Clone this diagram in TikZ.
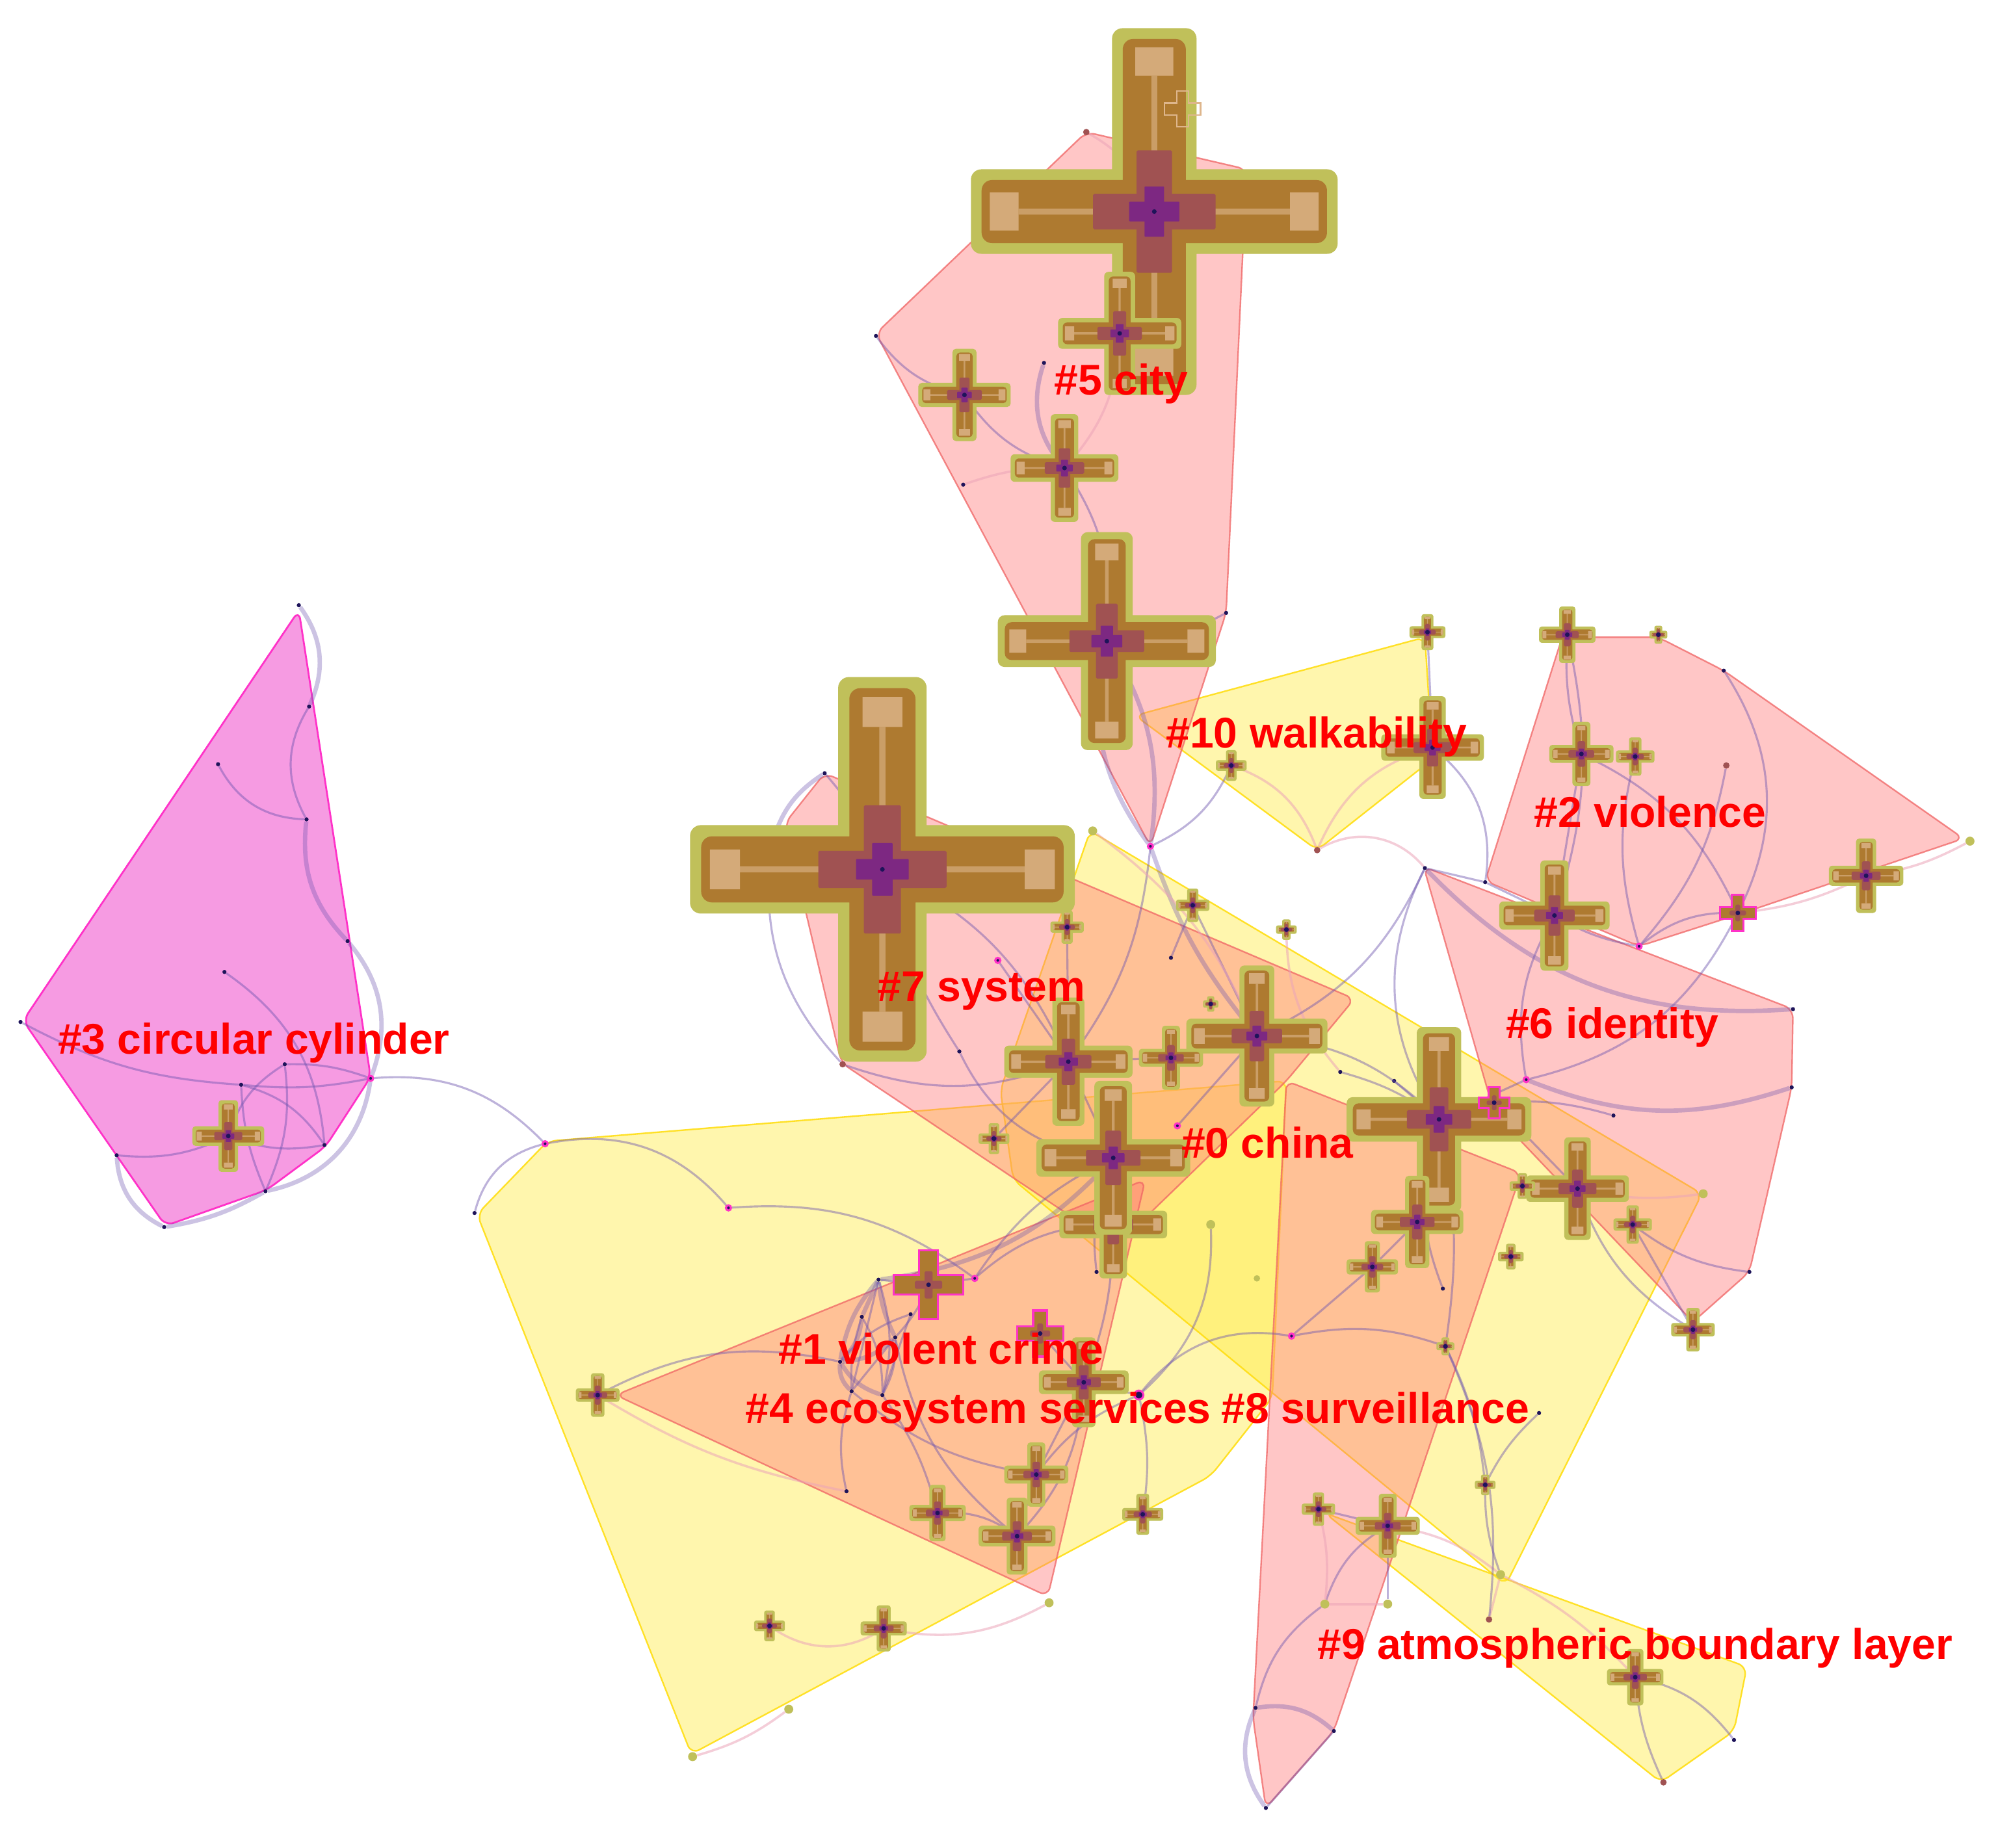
\documentclass[tikz,border=0pt]{standalone}
\usepackage{fontspec}
\setmainfont{Liberation Sans}
\definecolor{pkf}{RGB}{255,120,120}
\definecolor{pkd}{RGB}{240,100,100}
\definecolor{ylf}{RGB}{255,235,60}
\definecolor{yld}{RGB}{255,222,20}
\definecolor{mgf}{RGB}{246,155,226}
\definecolor{mgd}{RGB}{255,50,200}
\definecolor{olv}{RGB}{192,192,90}
\definecolor{brn}{RGB}{174,122,48}
\definecolor{tanc}{RGB}{222,182,140}
\definecolor{plm}{RGB}{160,82,82}
\definecolor{prp}{RGB}{125,40,130}
\definecolor{nvy}{RGB}{30,20,90}
\definecolor{lnk}{RGB}{110,85,175}
\definecolor{lnkb}{RGB}{235,165,185}
\definecolor{lbl}{RGB}{255,0,0}
\newcommand\plusf[4]{\fill[#1,rounded corners=#4pt] (-#2,-#3) rectangle (#2,#3) (-#3,-#2) rectangle (#3,#2);}
\newcommand\cxsizes[1]{%
  \pgfmathsetmacro\cxLo{#1}%
  \pgfmathsetmacro\cxWo{0.22*#1+1.5}%
  \pgfmathsetmacro\cxLb{0.95*#1-1.2}%
  \pgfmathsetmacro\cxWb{\cxWo-1.2-0.05*#1}%
  \pgfmathsetmacro\cxTa{0.74*#1}%
  \pgfmathsetmacro\cxTb{0.9*#1-0.5}%
  \pgfmathsetmacro\cxTw{0.45*\cxWo}%
  \pgfmathsetmacro\cxSw{0.07*\cxWo}%
  \pgfmathsetmacro\cxSs{0.15*#1}%
  \pgfmathsetmacro\cxLp{0.32*#1+2}%
  \pgfmathsetmacro\cxWp{0.42*\cxWo}%
  \pgfmathsetmacro\cxLq{0.13*#1+1}%
  \pgfmathsetmacro\cxWq{0.22*\cxWo+0.4}%
  \pgfmathsetmacro\cxR{0.05*#1+1}}
\tikzset{
  pics/cit/.style={code={
    \cxsizes{#1}
    \plusf{olv}{\cxLo}{\cxWo}{\cxR}
    \plusf{brn}{\cxLb}{\cxWb}{\cxR}
    \fill[tanc,opacity=0.8] (\cxTa,-\cxTw) rectangle (\cxTb,\cxTw) (-\cxTa,-\cxTw) rectangle (-\cxTb,\cxTw)
      (-\cxTw,\cxTa) rectangle (\cxTw,\cxTb) (-\cxTw,-\cxTa) rectangle (\cxTw,-\cxTb);
    \fill[tanc,opacity=0.6] (\cxSs,-\cxSw) rectangle (\cxTa,\cxSw) (-\cxSs,-\cxSw) rectangle (-\cxTa,\cxSw)
      (-\cxSw,\cxSs) rectangle (\cxSw,\cxTa) (-\cxSw,-\cxSs) rectangle (\cxSw,-\cxTa);
    \plusf{plm}{\cxLp}{\cxWp}{1}
    \plusf{prp}{\cxLq}{\cxWq}{0.5}
    \fill[nvy] (0,0) circle (1.8);
  }},
  pics/citm/.style={code={
    \cxsizes{#1}
    \plusf{brn}{\cxLo}{\cxWo}{1}
    \plusf{plm}{\cxLp}{\cxWp}{1}
    \draw[mgd,line width=1.6pt] (-\cxLo,-\cxWo) -- (-\cxWo,-\cxWo) -- (-\cxWo,-\cxLo) -- (\cxWo,-\cxLo) -- (\cxWo,-\cxWo) -- (\cxLo,-\cxWo) -- (\cxLo,\cxWo) -- (\cxWo,\cxWo) -- (\cxWo,\cxLo) -- (-\cxWo,\cxLo) -- (-\cxWo,\cxWo) -- (-\cxLo,\cxWo) -- cycle;
    \fill[nvy] (0,0) circle (1.8);
  }},
  pics/cith/.style={code={
    \cxsizes{#1}
    \draw[tanc,line width=1.2pt] (-\cxLo,-\cxWo) -- (-\cxWo,-\cxWo) -- (-\cxWo,-\cxLo) -- (\cxWo,-\cxLo) -- (\cxWo,-\cxWo) -- (\cxLo,-\cxWo) -- (\cxLo,\cxWo) -- (\cxWo,\cxWo) -- (\cxWo,\cxLo) -- (-\cxWo,\cxLo) -- (-\cxWo,\cxWo) -- (-\cxLo,\cxWo) -- cycle;
  }},
  pinkhull/.style={fill=pkf,fill opacity=0.42,draw=pkd,draw opacity=0.75,line width=1.2pt,rounded corners=7pt},
  yelhull/.style={fill=ylf,fill opacity=0.42,draw=yld,draw opacity=0.9,line width=1.2pt,rounded corners=7pt},
  maghull/.style={fill=mgf,draw=mgd,line width=1.4pt,rounded corners=7pt},
  dot/.style={circle,fill=nvy,inner sep=0pt,minimum size=3.2pt},
  mdot/.style={circle,fill=nvy,draw=mgd,line width=1.6pt,inner sep=0pt,minimum size=4pt},
  odot/.style={circle,fill=olv,inner sep=0pt,minimum size=7pt},
  pdot/.style={circle,fill=plm,inner sep=0pt,minimum size=5pt},
  lk/.style={draw=lnk,line width=1.6pt,draw opacity=0.45},
  lkt/.style={draw=lnk,line width=3.4pt,draw opacity=0.35},
  lkl/.style={draw=lnkb,line width=1.8pt,draw opacity=0.55},
  lab/.style={text=lbl,font=\fontsize{33.5}{40}\selectfont\bfseries,anchor=base west,inner sep=0pt}
}
\begin{document}
\begin{tikzpicture}[x=1pt,y=-1pt]
\useasboundingbox (0,0) rectangle (1568,1441);
\fill[white] (0,0) rectangle (1568,1441);
% ---------- cluster hulls ----------
\path[yelhull] (427,890) -- (1003,843) -- (992,1090) -- (944,1151) -- (539,1368) -- (372,947) -- cycle;
\path[yelhull] (850,648) -- (1327,931) -- (1174,1236) -- (790,920) -- (780,850) -- cycle;
\path[yelhull] (885,558) -- (1111,497) -- (1117,592) -- (1027,663) -- cycle;
\path[yelhull] (1033,1180) -- (1362,1300) -- (1352,1350) -- (1295,1390) -- cycle;
\path[pinkhull] (847,103) -- (972,132) -- (956,478) -- (897,660) -- (683,260) -- cycle;
\path[pinkhull] (1218,497) -- (1293,497) -- (1344,523) -- (1531,654) -- (1356,713) -- (1278,738) -- (1158,687) -- cycle;
\path[pinkhull] (1110,676) -- (1398,787) -- (1397,848) -- (1364,992) -- (1320,1031) -- (1165,868) -- cycle;
\path[pinkhull] (643,603) -- (1056,779) -- (1003,843) -- (870,972) -- (656,829) -- (612,642) -- cycle;
\path[pinkhull] (480,1088) -- (893,920) -- (817,1245) -- cycle;
\path[pinkhull] (1003,843) -- (1186,915) -- (1040,1350) -- (987,1410) -- (977,1340) -- cycle;
\path[maghull] (233,476) -- (289,840) -- (254,894) -- (208,928) -- (129,956) -- (18,796) -- cycle;
% ---------- cross (citation) node positions ----------
\coordinate (c1) at (900,165);  \coordinate (c2) at (688,678);  \coordinate (c3) at (863,500);
\coordinate (c4) at (873,260);  \coordinate (c5) at (752,308);  \coordinate (c6) at (830,365);
\coordinate (c7) at (1113,493); \coordinate (c8) at (1117,583); \coordinate (c9) at (960,597);
\coordinate (c10) at (1222,495);\coordinate (c11) at (1233,588);\coordinate (c12) at (1275,590);
\coordinate (c13) at (1293,495);\coordinate (c14) at (1212,714);\coordinate (c15) at (1355,712);
\coordinate (c16) at (1455,683);\coordinate (c17) at (833,828); \coordinate (c18) at (980,808);
\coordinate (c19) at (913,825); \coordinate (c20) at (868,903); \coordinate (c52) at (868,955);
\coordinate (c21) at (1122,873);\coordinate (c22) at (1105,953);\coordinate (c23) at (1230,927);
\coordinate (c24) at (1070,988);\coordinate (c25) at (1187,925);\coordinate (c26) at (1273,955);
\coordinate (c27) at (1178,980);\coordinate (c28) at (1320,1037);\coordinate (c29) at (930,706);
\coordinate (c30) at (1003,725);\coordinate (c31) at (944,783); \coordinate (c32) at (832,723);
\coordinate (c33) at (775,888); \coordinate (c34) at (724,1002);\coordinate (c35) at (811,1040);
\coordinate (c36) at (845,1078);\coordinate (c37) at (466,1088);\coordinate (c38) at (808,1150);
\coordinate (c39) at (731,1180);\coordinate (c40) at (793,1198);\coordinate (c41) at (891,1181);
\coordinate (c42) at (600,1268);\coordinate (c43) at (689,1270);\coordinate (c44) at (1028,1177);
\coordinate (c45) at (1082,1190);\coordinate (c46) at (1275,1308);\coordinate (c47) at (1127,1050);
\coordinate (c48) at (1158,1158);\coordinate (c49) at (178,886);\coordinate (c50) at (1165,860);
\coordinate (c51) at (922,85);
% ---------- small nodes ----------
\node[dot] (d1) at (233,472) {};  \node[dot] (d2) at (241,551) {};  \node[dot] (d3) at (170,596) {};
\node[dot] (d4) at (239,639) {};  \node[dot] (d5) at (271,734) {};  \node[dot] (d6) at (175,758) {};
\node[dot] (d7) at (16,797) {};   \node[dot] (d8) at (222,830) {};  \node[dot] (d9) at (188,846) {};
\node[mdot] (d10) at (289,841) {};\node[dot] (d11) at (253,893) {}; \node[dot] (d12) at (207,929) {};
\node[dot] (d13) at (91,901) {};  \node[dot] (d14) at (128,957) {}; \node[mdot] (d15) at (425,892) {};
\node[dot] (d16) at (370,946) {}; \node[mdot] (d17) at (568,942) {};
\node[dot] (f1) at (685,998) {};  \node[dot] (f2) at (672,1027) {}; \node[dot] (f3) at (698,1043) {};
\node[dot] (f4) at (655,1062) {}; \node[dot] (f5) at (688,1088) {}; \node[dot] (f6) at (664,1085) {};
\node[dot] (f7) at (710,1025) {}; \node[mdot] (f8) at (760,997) {};
\node[dot] (e1) at (643,603) {};  \node[dot] (e2) at (602,658) {};  \node[dot] (e3) at (683,262) {};
\node[dot] (e4) at (814,283) {};  \node[dot] (e5) at (751,378) {};  \node[pdot] (e6) at (847,103) {};
\node[dot] (e7) at (956,478) {};  \node[mdot] (e8) at (897,660) {}; \node[pdot] (e9) at (1027,663) {};
\node[mdot] (e10) at (918,878) {};\node[mdot] (e11) at (778,749) {};\node[dot] (e12) at (748,820) {};
\node[pdot] (e13) at (657,830) {};\node[dot] (e14) at (913,747) {};\node[dot] (e16) at (1111,677) {};
\node[dot] (e17) at (1158,688) {};\node[mdot] (e18) at (1278,738) {};\node[pdot] (e19) at (1346,597) {};
\node[dot] (e20) at (1344,523) {};\node[odot] (e21) at (1536,656) {};\node[dot] (e22) at (1398,787) {};
\node[dot] (e23) at (1397,848) {};\node[dot] (e24) at (1364,992) {};\node[mdot] (e25) at (1190,842) {};
\node[dot] (e26) at (1258,870) {};\node[odot] (e27) at (1328,931) {};\node[dot] (e29) at (1045,836) {};
\node[mdot] (e30) at (1007,1042) {};\node[mdot,minimum size=7pt] (e31) at (888,1088) {};
\node[dot] (e32) at (1200,1102) {};\node[dot] (e35) at (1040,1350) {};\node[dot] (e36) at (987,1410) {};
\node[dot] (e37) at (979,1332) {};\node[odot] (e38) at (1033,1251) {};\node[odot] (e39) at (1170,1228) {};
\node[pdot] (e40) at (1161,1263) {};\node[odot] (e41) at (1082,1251) {};\node[pdot] (e42) at (1297,1390) {};
\node[dot] (e43) at (1352,1357) {};\node[odot] (e44) at (818,1250) {};\node[odot] (e45) at (615,1333) {};
\node[odot] (e46) at (540,1370) {};\node[dot] (e47) at (660,1163) {};\node[dot] (e48) at (855,992) {};
\node[odot] (e49) at (944,955) {};\node[odot,minimum size=5pt] (e50) at (980,997) {};\node[dot] (e51) at (1087,843) {};
\node[dot] (e53) at (1125,1005) {};\node[odot] (e55) at (852,648) {};\node[odot,minimum size=5pt] (e56) at (980,137) {};
% ---------- links ----------
\draw[lkt] (d1) to[bend left=30] (d2);
\draw[lk] (d2) to[bend right=30] (d4);
\draw[lk] (d3) to[bend right=30] (d4);
\draw[lkt] (d4) to[bend right=25] (d5);
\draw[lkt] (d5) to[bend left=30] (d10);
\draw[lk] (d6) to[bend left=25] (d11);
\draw[lk] (d7) to[bend right=12] (d9);
\draw[lk] (d9) to[bend right=8] (d10);
\draw[lk] (d8) to[bend left=15] (d12);
\draw[lk] (d8) to[bend left=10] (d10);
\draw[lk] (d9) to[bend left=20] (d11);
\draw[lk] (d9) to[bend right=10] (d12);
\draw[lk] (d13) to[bend right=15] (c49);
\draw[lk] (c49) to[bend right=15] (d11);
\draw[lk] (c49) to[bend left=20] (d8);
\draw[lkt] (d12) to[bend left=10] (d14);
\draw[lkt] (d13) to[bend right=30] (d14);
\draw[lkt] (d10) to[bend left=35] (d12);
\draw[lk] (d10) to[bend left=25] (d15);
\draw[lk] (d15) to[bend right=30] (d16);
\draw[lk] (d15) to[bend left=30] (d17);
\draw[lk] (d17) to[bend left=20] (f8);
\draw[lkl] (e6) to[bend left=20] (c1);
\draw[lk] (c1) to (c4);
\draw[lk] (e3) to[bend right=20] (c5);
\draw[lk] (c5) to[bend right=20] (c6);
\draw[lkt] (e4) to[bend right=30] (c6);
\draw[lkl] (c6) to[bend right=10] (e5);
\draw[lk] (c6) to[bend left=20] (c3);
\draw[lkl] (c4) to[bend left=20] (c6);
\draw[lkt] (c3) to[bend left=20] (e8);
\draw[lkt] (c3) to[bend right=25] (e8);
\draw[lk] (e7) to[bend left=15] (c3);
\draw[lkt] (e8) to[bend right=10] (c18);
\draw[lk] (e8) to[bend left=15] (c17);
\draw[lk] (e8) to[bend right=20] (c9);
\draw[lkl] (c9) to[bend left=25] (e9);
\draw[lk] (c8) to[bend left=30] (e17);
\draw[lkl] (c8) to[bend right=25] (e9);
\draw[lk] (c7) to (c8);
\draw[lkl] (e9) to[bend left=40] (e16);
\draw[lk] (e1) to[bend left=10] (c2);
\draw[lkt] (e1) to[bend right=20] (e2);
\draw[lk] (e2) to[bend right=25] (e13);
\draw[lk] (e13) to[bend right=20] (c17);
\draw[lk] (c2) to[bend left=20] (c17);
\draw[lk] (e11) to (c17);
\draw[lk] (e12) to[bend right=30] (c20);
\draw[lk] (c2) to[bend right=10] (e12);
\draw[lk] (c17) to (c19);
\draw[lk] (c19) to[bend left=10] (c18);
\draw[lk] (c18) to[bend left=20] (c21);
\draw[lk] (c18) to (e10);
\draw[lk] (c17) to (c20);
\draw[lk] (c20) to (c52);
\draw[lk] (c20) to[bend right=15] (e48);
\draw[lk] (c52) to[bend right=20] (f8);
\draw[lk] (c52) to[bend left=10] (c36);
\draw[lkt] (c20) to[bend left=20] (f1);
\draw[lk] (c29) to (c18);
\draw[lk] (c29) to (e14);
\draw[lk] (c32) to (c17);
\draw[lk] (c33) to (c17);
\draw[lkl] (c30) to[bend right=20] (e29);
\draw[lk] (e29) to[bend left=10] (c21);
\draw[lk] (e51) to (c21);
\draw[lkl] (e55) to[bend left=15] (c18);
\draw[lk] (c18) to[bend right=20] (e16);
\draw[lk] (c21) to (e25);
\draw[lk] (e25) to[bend left=20] (c14);
\draw[lk] (c14) to (e17);
\draw[lk] (e16) to (e17);
\draw[lk] (e16) to[bend right=30] (c21);
\draw[lk] (c14) to[bend right=10] (e18);
\draw[lk] (e18) to[bend left=20] (c15);
\draw[lk] (c15) to[bend right=30] (e20);
\draw[lk] (c15) to[bend right=20] (c11);
\draw[lk] (c11) to[bend left=10] (c10);
\draw[lk] (c10) to[bend left=15] (c14);
\draw[lk] (c12) to[bend right=15] (e18);
\draw[lk] (c11) to (c14);
\draw[lk] (e19) to[bend left=15] (e18);
\draw[lkl] (c16) to[bend right=10] (e21);
\draw[lkl] (c15) to[bend right=10] (c16);
\draw[lk] (c15) to[bend left=25] (e25);
\draw[lkt] (e22) to[bend left=25] (e16);
\draw[lkt] (e23) to[bend left=20] (e25);
\draw[lk] (e26) to[bend right=10] (c50);
\draw[lk] (c50) to (c21);
\draw[lk] (c23) to[bend right=20] (c28);
\draw[lk] (c26) to (c28);
\draw[lk] (c23) to (c50);
\draw[lk] (e24) to[bend left=15] (c26);
\draw[lkl] (e27) to[bend left=10] (c23);
\draw[lk] (c21) to (c22);
\draw[lk] (c22) to (c24);
\draw[lk] (c24) to (e30);
\draw[lk] (e30) to[bend right=30] (e31);
\draw[lk] (e31) to (c36);
\draw[lk] (e30) to[bend left=15] (c47);
\draw[lk] (c21) to[bend right=20] (e53);
\draw[lk] (c44) to (c45);
\draw[lk] (c45) to[bend right=20] (e38);
\draw[lk] (e38) to[bend right=20] (e37);
\draw[lkt] (e37) to[bend right=30] (e36);
\draw[lkt] (e37) to[bend left=25] (e35);
\draw[lk] (e36) to (e35);
\draw[lkl] (e38) to (e41);
\draw[lkl] (c45) to[bend left=15] (e39);
\draw[lk] (c45) to (e41);
\draw[lkl] (e39) to[bend left=10] (c46);
\draw[lk] (c46) to[bend left=20] (e43);
\draw[lk] (c46) to[bend right=10] (e42);
\draw[lkl] (e40) to (e39);
\draw[lk] (c48) to[bend right=10] (e39);
\draw[lk] (c47) to[bend left=10] (c48);
\draw[lk] (c47) to[bend left=15] (e40);
\draw[lk] (e32) to[bend right=10] (c48);
\draw[lk] (c21) to[bend left=10] (c47);
\draw[lkt] (f1) to (f2); \draw[lkt] (f1) to[bend right=10] (f3); \draw[lkt] (f1) to[bend right=15] (f4);
\draw[lk] (f1) to[bend left=15] (f5); \draw[lk] (f1) to (f6); \draw[lkt] (f2) to[bend left=20] (f4);
\draw[lk] (f2) to[bend left=15] (f5); \draw[lkt] (f3) to[bend left=20] (f4); \draw[lk] (f3) to (f6);
\draw[lkt] (f4) to[bend right=20] (f5); \draw[lkt] (f4) to[bend right=25] (f6); \draw[lk] (f5) to[bend right=15] (f3);
\draw[lk] (f6) to[bend left=10] (f2); \draw[lk] (f7) to[bend right=15] (f4); \draw[lk] (f7) to (f5);
\draw[lk] (c34) to (f1); \draw[lk] (c34) to (f8); \draw[lk] (c34) to[bend left=10] (f3);
\draw[lk] (c37) to[bend left=20] (f4);
\draw[lkl] (c37) to[bend right=10] (e47);
\draw[lk] (f5) to[bend left=10] (c39);
\draw[lk] (f6) to[bend right=15] (c38);
\draw[lk] (c38) to (c40);
\draw[lk] (c39) to[bend left=20] (c40);
\draw[lk] (c38) to[bend left=15] (e31);
\draw[lk] (c40) to[bend left=20] (f3);
\draw[lk] (c41) to[bend right=10] (e31);
\draw[lkl] (c43) to[bend left=35] (c42);
\draw[lkl] (c43) to[bend right=20] (e44);
\draw[lk] (c40) to[bend right=20] (c36);
\draw[lk] (c38) to (c36);
\draw[lk] (e47) to[bend left=15] (f6);
\draw[lk] (f8) to[bend left=15] (c20);
\draw[lk] (c35) to (c36);
\draw[lk] (e31) to[bend right=25] (e49);
\draw[lkl] (e45) to[bend left=10] (e46);
\draw[lkl] (c44) to[bend left=10] (e38);
% ---------- citation crosses ----------
\pic at (c1) {cit=143};  \pic at (c4) {cit=48};   \pic at (c2) {cit=150};
\pic at (c3) {cit=85};   \pic at (c5) {cit=36};   \pic at (c6) {cit=42};
\pic at (c7) {cit=14};   \pic at (c8) {cit=40};   \pic at (c9) {cit=12};
\pic at (c10) {cit=22};  \pic at (c11) {cit=25};  \pic at (c12) {cit=15};
\pic at (c13) {cit=7};   \pic at (c14) {cit=43};  \pic at (c15) {citm=14};
\pic at (c16) {cit=29};  \pic at (c17) {cit=50};  \pic at (c18) {cit=55};
\pic at (c19) {cit=25};  \pic at (c52) {cit=42};  \pic at (c20) {cit=60};
\pic at (c21) {cit=72};  \pic at (c22) {cit=36};  \pic at (c23) {cit=40};
\pic at (c24) {cit=20};  \pic at (c25) {cit=10};  \pic at (c26) {cit=15};
\pic at (c27) {cit=10};  \pic at (c28) {cit=17};  \pic at (c29) {cit=13};
\pic at (c30) {cit=8};   \pic at (c31) {cit=6};   \pic at (c32) {cit=13};
\pic at (c33) {cit=12};  \pic at (c34) {citm=27}; \pic at (c35) {citm=18};
\pic at (c36) {cit=35};  \pic at (c37) {cit=17};  \pic at (c38) {cit=25};
\pic at (c39) {cit=22};  \pic at (c40) {cit=30};  \pic at (c41) {cit=16};
\pic at (c42) {cit=12};  \pic at (c43) {cit=18};  \pic at (c44) {cit=13};
\pic at (c45) {cit=25};  \pic at (c46) {cit=22};  \pic at (c47) {cit=7};
\pic at (c48) {cit=8};   \pic at (c49) {cit=28};  \pic at (c50) {citm=12};
\pic at (c51) {cith=14};
% ---------- cluster labels ----------
\node[lab] (l5) at (822,308) {\#5 city};
\node[lab] (l10) at (909,583) {\#10 walkability};
\node[lab] (l2) at (1196,645) {\#2 violence};
\node[lab] (l7) at (684,781) {\#7 system};
\node[lab] (l6) at (1174,810) {\#6 identity};
\node[lab] (l3) at (45,822) {\#3 circular cylinder};
\node[lab] (l0) at (921,903) {\#0 china};
\node[lab] (l1) at (607,1064) {\#1 violent crime};
\node[lab] (l4) at (581,1110) {\#4 ecosystem services};
\node[lab] (l8) at (952,1110) {\#8 surveillance};
\node[lab] (l9) at (1027,1294) {\#9 atmospheric boundary layer};
\end{tikzpicture}
\end{document}
